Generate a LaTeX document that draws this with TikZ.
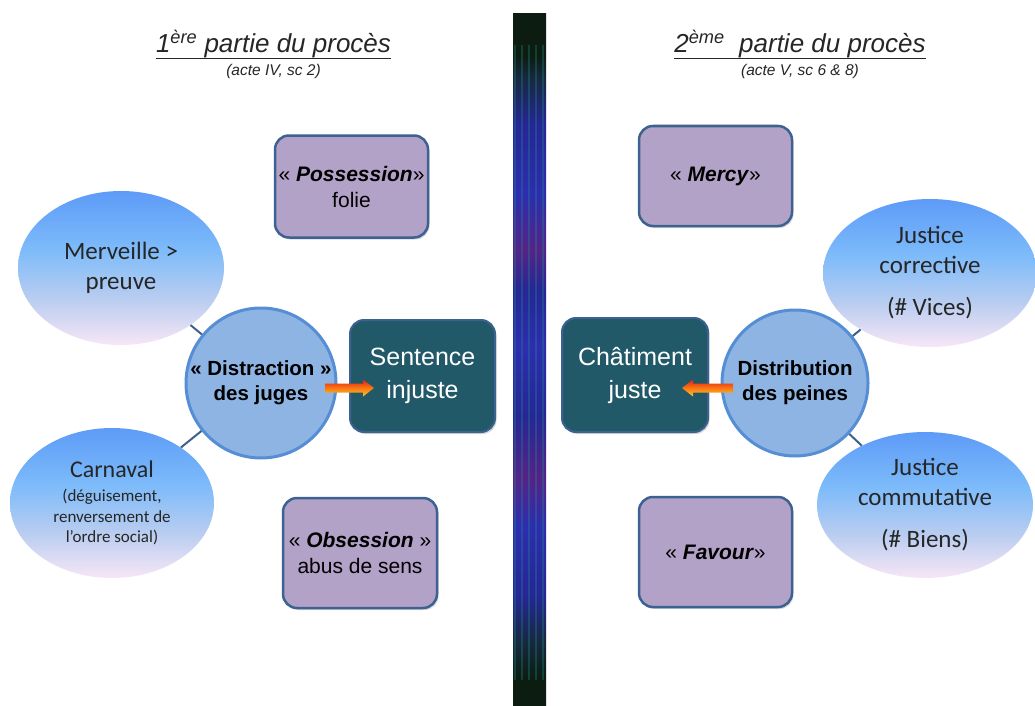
\documentclass[tikz,border=0pt]{standalone}
\usepackage{fontspec}
\setmainfont{Liberation Sans}
\newfontfamily\calfont{Carlito}
\usetikzlibrary{shapes.geometric,shadows,calc}
\definecolor{boxpurple}{HTML}{B3A2C7}
\definecolor{boxborder}{HTML}{3D6190}
\definecolor{tealbox}{HTML}{215968}
\definecolor{circfill}{HTML}{8EB4E3}
\definecolor{circborder}{HTML}{558ED5}
\definecolor{linkcol}{HTML}{3F6189}
\definecolor{elltop}{RGB}{93,155,248}
\definecolor{ellmid}{RGB}{125,187,250}
\definecolor{ellmidb}{RGB}{185,205,240}
\definecolor{ellbot}{RGB}{247,230,246}
\definecolor{barA}{RGB}{12,28,16}
\definecolor{barB}{RGB}{22,40,60}
\definecolor{barC}{RGB}{38,38,150}
\definecolor{barD}{RGB}{85,35,135}
\definecolor{barE}{RGB}{45,45,175}
\definecolor{barteal}{RGB}{30,150,140}
\definecolor{arrred}{RGB}{230,30,20}
\definecolor{arrorange}{RGB}{250,120,20}
\definecolor{arryellow}{RGB}{250,200,40}
\pgfdeclareverticalshading{ellshade}{100bp}{color(0bp)=(ellbot); color(25bp)=(ellbot); color(40bp)=(ellmidb); color(56bp)=(ellmid); color(75bp)=(elltop); color(100bp)=(elltop)}
\pgfdeclareverticalshading{barshade}{100bp}{color(0bp)=(barA); color(27bp)=(barA); color(29.5bp)=(barB); color(33bp)=(barC); color(38bp)=(barE); color(41.5bp)=(barD); color(46bp)=(barC); color(51bp)=(barE); color(55bp)=(barC); color(58bp)=(barD); color(62bp)=(barE); color(67bp)=(barC); color(70.5bp)=(barB); color(72bp)=(barA); color(100bp)=(barA)}
\newcommand{\myul}[1]{\setbox0\hbox{#1}\rlap{\rule[-6.5pt]{\wd0}{1.8pt}}\box0}
\tikzset{
  titletext/.style={inner sep=0pt, anchor=base, font=\itshape\fontsize{26}{30}\selectfont, text=black!85},
  subtext/.style={inner sep=0pt, anchor=base, font=\itshape\fontsize{15.5}{18}\selectfont, text=black!85},
  purplebox/.style={rectangle, rounded corners=14pt, fill=boxpurple, draw=boxborder, line width=2.5pt, align=center, inner sep=2pt, font=\fontsize{21}{26}\selectfont, drop shadow={shadow xshift=1.5pt, shadow yshift=-2pt, opacity=0.3}},
  tealboxst/.style={rectangle, rounded corners=14pt, fill=tealbox, draw=boxborder, line width=2pt, align=center, text=white, font=\fontsize{25}{33}\selectfont, drop shadow={shadow xshift=1.5pt, shadow yshift=-2pt, opacity=0.3}},
  bigcircle/.style={circle, fill=circfill, draw=circborder, line width=3pt, align=center, inner sep=0pt, font=\bfseries\fontsize{20.5}{25}\selectfont},
  blueell/.style={ellipse, shading=ellshade, inner sep=0pt, align=center, font=\calfont\fontsize{25}{30}\selectfont, text=black!85},
  linkline/.style={draw=linkcol, line width=2pt},
  arrshade/.style={top color=arrred, bottom color=arryellow, middle color=arrorange},
}
\begin{document}
\begin{tikzpicture}[x=1pt,y=-1pt]
\fill[white] (0,0) rectangle (1035,706);
\useasboundingbox (0,0) rectangle (1035,706);
% central bar
\shade[shading=barshade] (513,14) rectangle (546,706);
\foreach \xx in {514,521,528,535,542}{
  \fill[barteal, opacity=0.3] (\xx,45) rectangle (\xx+2.2,680);
}
% titles
\node[titletext] (t1) at (273.5,53) {\myul{1\textsuperscript{ère} partie du procès}};
\node[subtext] (s1) at (273.5,76) {(acte IV, sc 2)};
\node[titletext] (t2) at (800,53) {\myul{2\textsuperscript{ème}\ \ partie du procès}};
\node[subtext] (s2) at (800,76) {(acte V, sc 6 \& 8)};
% left side
\node[blueell, minimum width=206pt, minimum height=154pt] (merv) at (121,268) {Merveille >\\preuve};
\node[blueell, minimum width=204pt, minimum height=150pt, font=\calfont\fontsize{17}{20.5}\selectfont] (carn) at (112,503) {{\fontsize{24}{28}\selectfont Carnaval}\\[4pt](déguisement,\\renversement de\\l’ordre social)};
\node[bigcircle, minimum size=150pt] (dj) at (261,383) {« Distraction »\\des juges};
\draw[linkline] (dj) -- (merv);
\draw[linkline] (dj) -- (carn);
\node[purplebox, minimum width=153pt, minimum height=102pt] (poss) at (351.5,186.5) {« \textbf{\textit{Possession}}»\\folie};
\node[purplebox, minimum width=154pt, minimum height=110pt] (obs) at (360,553) {« \textbf{\textit{Obsession}} »\\abus de sens};
\node[tealboxst, minimum width=145pt, minimum height=112pt] (sent) at (422.5,376) {Sentence\\injuste};
\coordinate (a1s) at (325,388);
\coordinate (a1e) at (374,388);
\shade[arrshade] ($(a1s)+(0,-4.5)$) -- ($(a1e)+(-11,-4.5)$) -- ($(a1e)+(-11,-8.5)$) -- (a1e) -- ($(a1e)+(-11,8.5)$) -- ($(a1e)+(-11,4.5)$) -- ($(a1s)+(0,4.5)$) -- cycle;
% right side
\node[blueell, minimum width=214pt, minimum height=148pt] (jcorr) at (930,273) {Justice\\corrective\\[12pt](\# Vices)};
\node[blueell, minimum width=216pt, minimum height=146pt] (jcomm) at (925,505) {Justice\\commutative\\[12pt](\# Biens)};
\node[bigcircle, minimum size=146pt] (dp) at (795,383) {Distribution\\des peines};
\draw[linkline] (dp) -- (jcorr);
\draw[linkline] (dp) -- (jcomm);
\node[purplebox, minimum width=153pt, minimum height=100pt] (mercy) at (715.5,176) {« \textbf{\textit{Mercy}}»};
\node[purplebox, minimum width=153pt, minimum height=110pt] (favour) at (715.5,552) {« \textbf{\textit{Favour}}»};
\node[tealboxst, minimum width=146pt, minimum height=114pt] (chat) at (635,375) {Châtiment\\juste};
\coordinate (a2s) at (733,388);
\coordinate (a2e) at (682,388);
\shade[arrshade] ($(a2s)+(0,-4.5)$) -- ($(a2e)+(11,-4.5)$) -- ($(a2e)+(11,-8.5)$) -- (a2e) -- ($(a2e)+(11,8.5)$) -- ($(a2e)+(11,4.5)$) -- ($(a2s)+(0,4.5)$) -- cycle;
\end{tikzpicture}
\end{document}
